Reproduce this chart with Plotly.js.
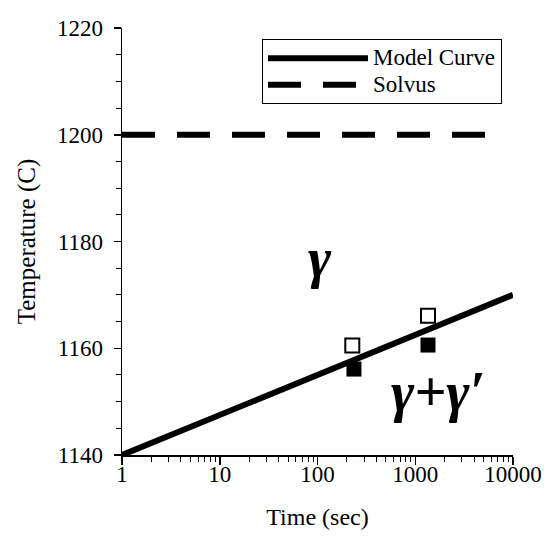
<!DOCTYPE html>
<html>
<head>
<meta charset="utf-8">
<script src="https://cdn.plot.ly/plotly-3.0.1.min.js"></script>
<style>html,body{margin:0;padding:0;background:#fff;}#chart{width:546px;height:536px;}</style>
</head>
<body>
<div id="chart"></div>
<script>
// Data
const modelTime = [1, 10000];
const modelTemp = [1140, 1170];
const solvusTime = [1, 6300];
const solvusTemp = [1200, 1200];
const openTime = [227, 1350];
const openTemp = [1160.5, 1166.1];
const filledTime = [236, 1350];
const filledTemp = [1156.1, 1160.6];
const xTickVals = [1, 10, 100, 1000, 10000];
const xTickText = ['1', '10', '100', '1000', '10000'];
const seriesNames = ['Model Curve', 'Solvus'];
const phaseLabels = ['γ', 'γ+γ′'];
const phaseTime = [105, 1700];
const phaseTemp = [1177, 1151.8];

const FONT = 'Liberation Serif, Times New Roman, serif';
const big = s => '<span style="font-size:23px">' + s + '</span>';

const traces = [
  {x: modelTime, y: modelTemp, mode: 'lines', name: big(seriesNames[0]),
   line: {color: '#000', width: 6}},
  {x: solvusTime, y: solvusTemp, mode: 'lines', name: big(seriesNames[1]),
   line: {color: '#000', width: 6, dash: '33px,22px'}},
  {x: openTime, y: openTemp, mode: 'markers', showlegend: false, cliponaxis: false,
   marker: {symbol: 'square-open', size: 14, color: '#000', line: {width: 2, color: '#000'}}},
  {x: filledTime, y: filledTemp, mode: 'markers', showlegend: false, cliponaxis: false,
   marker: {symbol: 'square', size: 15, color: '#000'}}
];

const layout = {
  width: 546, height: 536,
  margin: {l: 122, r: 33, t: 28, b: 81},
  paper_bgcolor: '#fff', plot_bgcolor: '#fff',
  font: {family: FONT, color: '#000', size: 23},
  showlegend: true,
  legend: {x: 0.358, y: 0.974, xanchor: 'left', yanchor: 'top',
    bgcolor: '#fff', bordercolor: '#000', borderwidth: 1,
    font: {family: FONT, size: 18}, itemwidth: 100, tracegroupgap: 0},
  xaxis: {type: 'log', range: [0, 4], tickvals: xTickVals, ticktext: xTickText,
    showline: true, linecolor: '#000', linewidth: 1.5, showgrid: false, zeroline: false,
    ticks: 'outside', ticklen: 8, tickwidth: 1.5, tickcolor: '#000', ticklabelstandoff: -10,
    minor: {ticks: 'outside', ticklen: 5, tickwidth: 1, tickcolor: '#000', showgrid: false, dtick: 'D1'},
    tickfont: {family: FONT, size: 23},
    title: {text: 'Time (sec)', font: {family: FONT, size: 24}, standoff: 22}},
  yaxis: {range: [1140, 1220], dtick: 20, tick0: 1140,
    showline: true, linecolor: '#000', linewidth: 1.5, showgrid: false, zeroline: false,
    ticks: 'outside', ticklen: 7, tickwidth: 1.5, tickcolor: '#000', ticklabelstandoff: 6,
    minor: {ticks: 'outside', ticklen: 5, tickwidth: 1, tickcolor: '#000', showgrid: false, dtick: 5},
    tickfont: {family: FONT, size: 23},
    title: {text: 'Temperature (C)', font: {family: FONT, size: 25}, standoff: 14}},
  annotations: phaseLabels.map((t, i) => ({
    x: Math.log10(phaseTime[i]), y: phaseTemp[i], xref: 'x', yref: 'y',
    text: '<b><i>' + t + '</i></b>', showarrow: false,
    font: {family: FONT, size: 56, color: '#000'}
  }))
};

Plotly.newPlot('chart', traces, layout, {displayModeBar: false, staticPlot: true});
</script>
</body>
</html>
